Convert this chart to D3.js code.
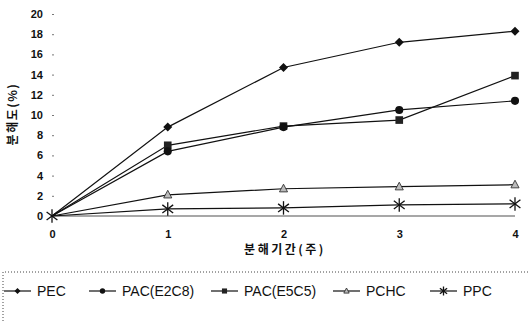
<!DOCTYPE html>
<html><head><meta charset="utf-8">
<script src="https://cdn.jsdelivr.net/npm/d3@7"></script>
<style>
body{margin:0;background:#fff;}
svg{display:block;}
</style></head>
<body>
<svg id="c" width="529" height="321"></svg>
<script>
const weeks = [0, 1, 2, 3, 4];
const yTicks = [0, 2, 4, 6, 8, 10, 12, 14, 16, 18, 20];
const seriesNames = ["PEC", "PAC(E2C8)", "PAC(E5C5)", "PCHC", "PPC"];
const PEC = [0, 8.8, 14.7, 17.2, 18.3];
const PAC_E2C8 = [0, 6.4, 8.8, 10.5, 11.4];
const PAC_E5C5 = [0, 7.0, 8.9, 9.5, 13.9];
const PCHC = [0, 2.1, 2.7, 2.9, 3.1];
const PPC = [0, 0.7, 0.8, 1.1, 1.2];
const markers = ["diamond", "circle", "square", "triangle", "asterisk"];
const seriesValues = [PEC, PAC_E2C8, PAC_E5C5, PCHC, PPC];
const xTitle = "분해기간(주)";
const yTitle = "분해도(%)";

const svg = d3.select("#c");
const x = d3.scaleLinear().domain([0, 4]).range([52, 515]);
const y = d3.scaleLinear().domain([0, 20]).range([216, 14]);
const font = "'Liberation Sans', Arial, sans-serif";
const kfont = "'Noto Sans CJK KR', sans-serif";

// x axis line
svg.append("line").attr("x1", x(0)).attr("x2", x(4)).attr("y1", y(0)).attr("y2", y(0))
  .attr("stroke", "#8a8a8a").attr("stroke-width", 1.6);

// y axis (ticks only)
const yAxis = d3.axisLeft(y).tickValues(yTicks).tickSize(0).tickPadding(9);
const gy = svg.append("g").attr("transform", `translate(${x(0)},0)`).call(yAxis);
gy.select(".domain").remove();
gy.selectAll("text").attr("font-family", font).attr("font-weight", "bold").attr("font-size", 11).attr("fill", "#111");
gy.selectAll(".tick").append("line").attr("x1", 0).attr("x2", 2).attr("stroke", "#777");

const xAxis = d3.axisBottom(x).tickValues(weeks).tickFormat(d3.format("d")).tickSize(0).tickPadding(14);
const gx = svg.append("g").attr("transform", `translate(0,${y(0)})`).call(xAxis);
gx.select(".domain").remove();
gx.selectAll("text").attr("font-family", font).attr("font-weight", "bold").attr("font-size", 11).attr("fill", "#111");

// titles
svg.append("text").attr("x", 285).attr("y", 254).attr("text-anchor", "middle")
  .attr("font-family", kfont).attr("font-weight", "bold").attr("font-size", 12)
  .attr("letter-spacing", 2.5).attr("fill", "#111").text(xTitle);
svg.append("text").attr("transform", "translate(17,114) rotate(-90)").attr("text-anchor", "middle")
  .attr("font-family", kfont).attr("font-weight", "bold").attr("font-size", 12)
  .attr("letter-spacing", 1.5).attr("fill", "#111").text(yTitle);

function drawMarker(g, type, cx, cy, s) {
  if (type === "diamond") {
    g.append("path").attr("d", `M${cx},${cy - s}L${cx + s},${cy}L${cx},${cy + s}L${cx - s},${cy}Z`).attr("fill", "#111");
  } else if (type === "circle") {
    g.append("circle").attr("cx", cx).attr("cy", cy).attr("r", s * 0.9).attr("fill", "#111");
  } else if (type === "square") {
    g.append("rect").attr("x", cx - s * 0.85).attr("y", cy - s * 0.85).attr("width", s * 1.7).attr("height", s * 1.7).attr("fill", "#222");
  } else if (type === "triangle") {
    g.append("path").attr("d", `M${cx},${cy - s}L${cx + s * 0.9},${cy + s * 0.7}L${cx - s * 0.9},${cy + s * 0.7}Z`)
      .attr("fill", "#bbb").attr("stroke", "#333").attr("stroke-width", 0.9);
  } else if (type === "asterisk") {
    const r = s * 1.5;
    const p = [[0, -r, 0, r], [-r * 0.8, -r * 0.6, r * 0.8, r * 0.6], [-r * 0.8, r * 0.6, r * 0.8, -r * 0.6]];
    p.forEach(q => g.append("line").attr("x1", cx + q[0]).attr("y1", cy + q[1]).attr("x2", cx + q[2]).attr("y2", cy + q[3])
      .attr("stroke", "#111").attr("stroke-width", 1.3));
  }
}

const line = d3.line().x((d, i) => x(weeks[i])).y(d => y(d));
const order = [3, 4, 2, 1, 0];
order.forEach(si => {
  const g = svg.append("g");
  g.append("path").attr("d", line(seriesValues[si])).attr("fill", "none").attr("stroke", "#111").attr("stroke-width", 1.2);
  seriesValues[si].forEach((v, i) => {
    if (i === 0 && si !== 4) return;
    drawMarker(g, markers[si], x(weeks[i]), y(v), 4.5);
  });
});

// legend box (dotted)
svg.append("path").attr("d", "M3,321V272H529").attr("fill", "none").attr("stroke", "#444")
  .attr("stroke-width", 1).attr("stroke-dasharray", "1,2");
const legX = [4, 89, 211, 333, 430];
const lg = svg.append("g");
seriesNames.forEach((n, i) => {
  const lx = legX[i], ly = 291;
  lg.append("line").attr("x1", lx).attr("x2", lx + 27).attr("y1", ly).attr("y2", ly).attr("stroke", "#111").attr("stroke-width", 1.2);
  drawMarker(lg, markers[i], lx + 13.5, ly, 3);
  lg.append("text").attr("x", lx + 33).attr("y", ly + 5).attr("font-family", font).attr("font-size", 14)
    .attr("fill", "#111").text(n);
});
</script>
</body></html>
